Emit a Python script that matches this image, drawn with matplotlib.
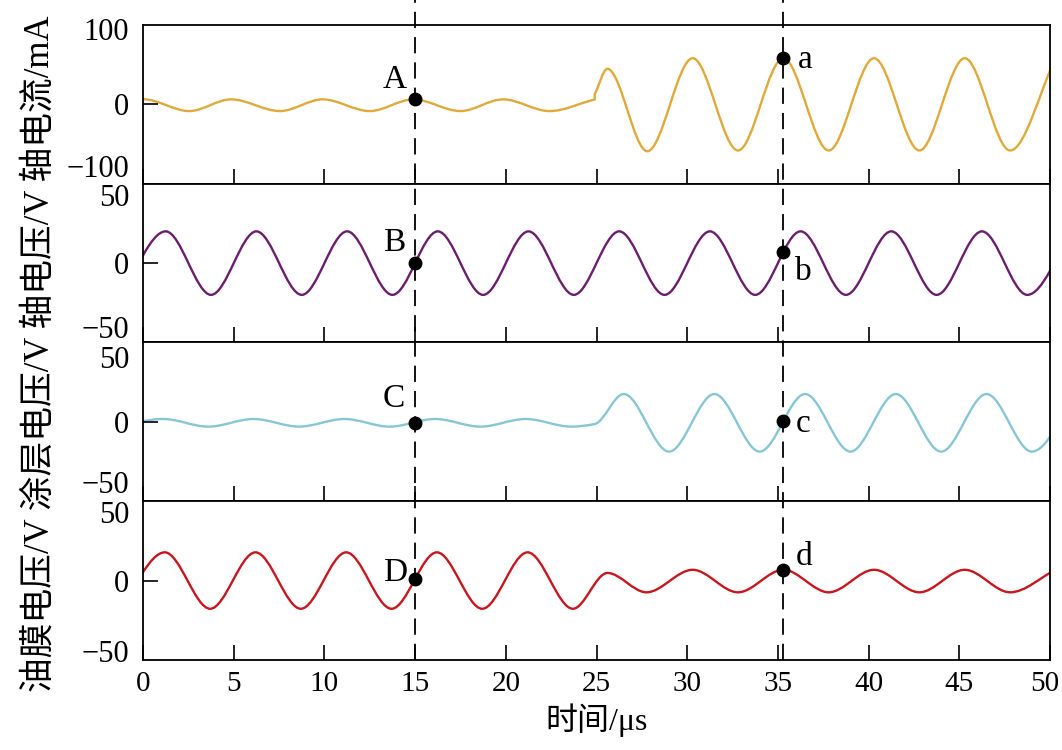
import numpy as np
import matplotlib
matplotlib.use('Agg')
import matplotlib.pyplot as plt
from matplotlib.path import Path
from matplotlib.patches import PathPatch
from matplotlib.lines import Line2D
from matplotlib.transforms import blended_transform_factory, ScaledTranslation

plt.rcParams['font.family'] = ['Liberation Serif', 'Noto Sans CJK SC']
plt.rcParams['axes.unicode_minus'] = True

# peaks / troughs (time in us, value)
cur_t1 = [-2.5, 0.0, 2.55, 4.85, 7.55, 9.9, 12.5, 14.9, 17.5, 19.85, 22.4, 24.9]
cur_v1 = [-8.9, 6.8, -8.9, 6.6, -8.9, 6.6, -8.9, 6.6, -8.9, 6.6, -8.9, 6.6]
cur_t2 = [24.9, 25.6, 27.8, 30.3, 32.8, 35.3, 37.8, 40.3, 42.8, 45.3, 47.8, 50.3]
cur_v2 = [13, 47, -62, 61, -61, 61, -61, 61, -61, 61, -61, 61]

shaft_t = [-1.25, 1.25, 3.75, 6.25, 8.75, 11.25, 13.75, 16.25, 18.75, 21.25, 23.75,
           26.25, 28.75, 31.25, 33.75, 36.25, 38.75, 41.25, 43.75, 46.25, 48.75, 51.25]
shaft_v = [-22, 22, -22, 22, -22, 22, -22, 22, -22, 22, -22,
           22, -22, 22, -22, 22, -22, 22, -22, 22, -22, 22]

coat_t = [-1.4, 1.1, 3.6, 6.1, 8.6, 11.1, 13.6, 16.1, 18.6, 21.1, 23.6, 24.9,
          26.5, 29.0, 31.5, 34.0, 36.5, 39.0, 41.5, 44.0, 46.5, 49.0, 51.5]
coat_v = [-3.3, 2.0, -3.3, 2.0, -3.3, 2.0, -3.3, 2.0, -3.3, 2.0, -3.3, -1.5,
          19.3, -20.6, 19.3, -20.6, 19.3, -20.6, 19.3, -20.6, 19.3, -20.6, 19.3]

oil_t = [-1.3, 1.2, 3.7, 6.2, 8.7, 11.2, 13.7, 16.2, 18.7, 21.2, 23.7,
         25.6, 27.75, 30.3, 32.8, 35.3, 37.8, 40.3, 42.8, 45.3, 47.8, 50.3]
oil_v = [-19.5, 19.6, -19.5, 19.6, -19.5, 19.6, -19.5, 19.6, -19.5, 19.6, -19.5,
         5.3, -8.1, 7.5, -8.1, 7.5, -8.1, 7.5, -8.1, 7.5, -8.1, 7.5]

# marked points: upper-case at 15 us, lower-case at 35.3 us
mark_t = [15.0, 35.3]
mark_cur = [6.6, 61]
mark_shaft = [0, 7.8]
mark_coat = [-0.5, 0.5]
mark_oil = [1.2, 7.5]

colors = ['#E0A93A', '#6B1E6E', '#86C6D5', '#C8161E']
ylabel = '油膜电压/V 涂层电压/V 轴电压/V 轴电流/mA'


def curve_path(pieces):
    # smooth monotone cubic through the read extrema, drawn as bezier path
    verts, codes = [], []
    for n, (t, v) in enumerate(pieces):
        t = np.asarray(t, float)
        v = np.asarray(v, float)
        h = np.diff(t)
        d = np.diff(v) / h
        m = np.zeros(len(t))
        m[0], m[-1] = d[0], d[-1]
        for k in range(1, len(t) - 1):
            if d[k-1] * d[k] > 0:
                w1 = 2*h[k] + h[k-1]
                w2 = h[k] + 2*h[k-1]
                m[k] = (w1 + w2) / (w1/d[k-1] + w2/d[k])
        verts.append((t[0], v[0]))
        codes.append(Path.MOVETO if n == 0 else Path.LINETO)
        for k in range(len(h)):
            verts += [(t[k] + h[k]/3, v[k] + m[k]*h[k]/3),
                      (t[k+1] - h[k]/3, v[k+1] - m[k+1]*h[k]/3),
                      (t[k+1], v[k+1])]
            codes += [Path.CURVE4]*3
    return Path(verts, codes)


def shift(text, dx, dy):
    # move a tick label by (dx, dy) pixels
    text.set_transform(text.get_transform() +
                       ScaledTranslation(dx/100, dy/100, fig.dpi_scale_trans))


fig, axes = plt.subplots(4, 1, sharex=True, figsize=(10.62, 7.5), dpi=100)
fig.subplots_adjust(left=0.1347, right=0.9887, top=0.9667, bottom=0.12, hspace=0)

series = [[(cur_t1, cur_v1), (cur_t2, cur_v2)],
          [(shaft_t, shaft_v)],
          [(coat_t, coat_v)],
          [(oil_t, oil_v)]]
marks = [mark_cur, mark_shaft, mark_coat, mark_oil]
lims = [(-105, 105), (-55, 55), (-55, 55), (-55, 55)]
ticks = [[-100, 0, 100], [-50, 0, 50], [-50, 0, 50], [-50, 0, 50]]
# shift (px) of bottom / top y tick labels, to keep them apart
lab_shift = [(14, 0), (8, -4), (12, -7), (2, -4)]
# label text, offsets in px (x, baseline y up) from the dot
labels = [[('A', -20, 11), ('a', 22, -10)],
          [('B', -21, 12), ('b', 20, -28)],
          [('C', -21, 16), ('c', 20, -11)],
          [('D', -20, -2), ('d', 21, 5)]]

for i, ax in enumerate(axes):
    ax.add_patch(PathPatch(curve_path(series[i]), fill=False, ec=colors[i], lw=1.7))
    ax.set_xlim(0, 50)
    ax.set_ylim(*lims[i])
    ax.set_yticks(ticks[i])
    ax.set_xticks(range(0, 51, 5))
    ax.tick_params(direction='in', length=11, width=1.2, top=False, right=False)
    ax.tick_params(axis='y', pad=10, labelsize=22)
    ax.tick_params(axis='x', pad=8, labelsize=21)
    for s in ax.spines.values():
        s.set_linewidth(1.3)
    yt = ax.yaxis.get_major_ticks()
    for j, dy in zip([0, 2], lab_shift[i]):
        yt[j].tick1line.set_visible(False)
        shift(yt[j].label1, 0, dy)
    ax.plot(mark_t, marks[i], 'o', color='k', ms=9, zorder=5, clip_on=False)
    for (txt, dx, dy), x, y in zip(labels[i], mark_t, marks[i]):
        ax.annotate(txt, (x, y), xytext=(dx*0.72, dy*0.72), textcoords='offset points',
                    ha='center', va='baseline', fontsize=24)

# keep the last x label inside the picture
shift(axes[-1].xaxis.get_major_ticks()[-1].label1, -5, 0)

# dashed markers running through all panels
tr = blended_transform_factory(axes[-1].transData, fig.transFigure)
for x in mark_t:
    fig.add_artist(Line2D([x, x], [0.12, 1.0], transform=tr, color='k', lw=1.3,
                          linestyle=(0, (9, 5))))

fig.text(40/1062, 1 - 692/750, ylabel, rotation=90, ha='center', va='bottom', fontsize=25)
fig.text(597/1062, 1 - 720/750, '时间/μs', ha='center', va='center', fontsize=23)

fig.savefig('out.png', dpi=100)
